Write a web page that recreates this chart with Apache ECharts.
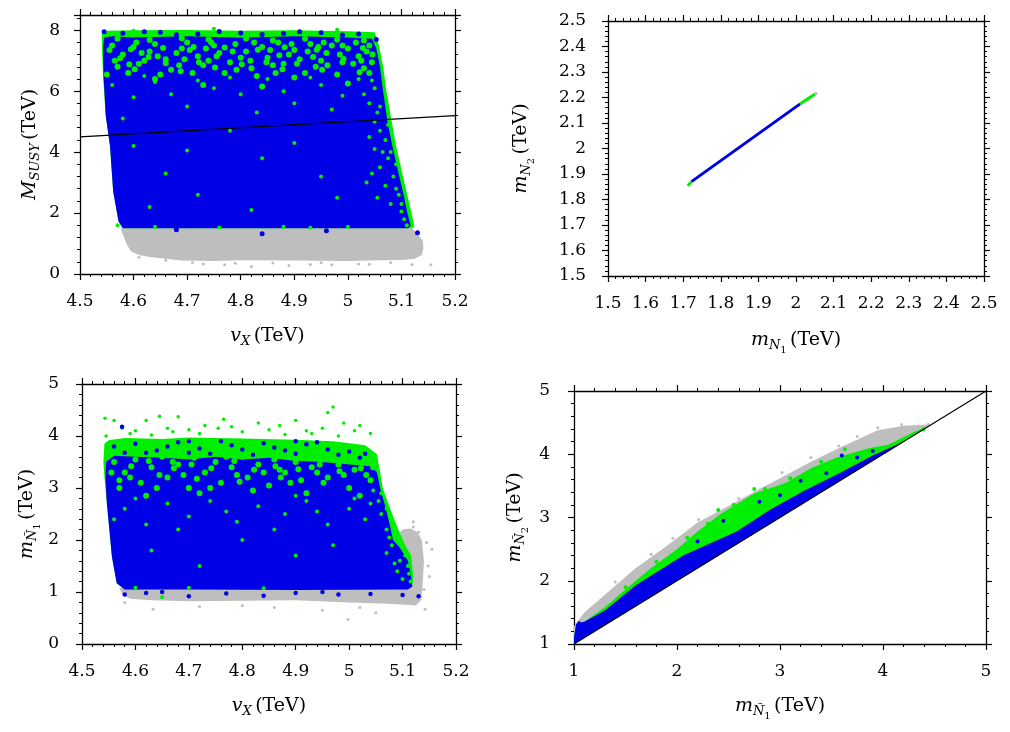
<!DOCTYPE html>
<html>
<head>
<meta charset="utf-8">
<script src="https://cdn.jsdelivr.net/npm/echarts@6/dist/echarts.min.js"></script>
<style>html,body{margin:0;padding:0;background:#fff}#main{width:1010px;height:732px}</style>
</head>
<body>
<div id="main"></div>
<script>
var FONT = 'DejaVu Serif';
var BLUE = '#0000e6', GREEN = '#00ee00', GRAY = '#bebebe';

// ---- panel 1 : M_SUSY vs v_X  (region outlines + loose points)
var p1Gray = [[4.576,1.5],[4.58,1.3],[4.588,0.95],[4.595,0.75],[4.61,0.62],[4.63,0.56],[4.66,0.5],[4.69,0.44],[4.75,0.43],[4.8,0.45],[4.9,0.44],[5.0,0.43],[5.06,0.45],[5.1,0.46],[5.125,0.5],[5.138,0.62],[5.141,0.85],[5.14,1.1],[5.13,1.3],[5.12,1.5]];
var p1Green = [[4.541,7.9],[4.55,7.98],[4.6,8.0],[4.7,8.01],[4.8,7.98],[4.9,8.0],[5.0,7.97],[5.05,7.93],[5.058,7.5],[5.066,6.8],[5.072,6.0],[5.082,5.0],[5.09,4.2],[5.103,3.2],[5.112,2.5],[5.12,1.9],[5.124,1.55],[5.12,1.5],[4.58,1.5],[4.572,1.72],[4.562,2.7],[4.556,4.2],[4.548,5.2],[4.543,6.5],[4.541,7.4]];
var p1Blue = [[4.545,7.75],[4.56,7.8],[4.6,7.76],[4.7,7.8],[4.8,7.75],[4.9,7.8],[5.0,7.76],[5.045,7.72],[5.053,7.4],[5.06,6.8],[5.065,6.1],[5.074,5.0],[5.083,4.2],[5.096,3.2],[5.104,2.6],[5.111,2.0],[5.117,1.6],[5.113,1.5],[4.58,1.5],[4.572,1.72],[4.562,2.7],[4.556,4.2],[4.548,5.2],[4.544,6.5],[4.543,7.4]];
// green patches in the top band (dense)
var p1GreenTop = [[4.56,7.5],[4.58,7.2],[4.6,7.45],[4.61,6.9],[4.63,7.3],[4.64,7.55],[4.66,7.05],[4.67,6.7],[4.69,7.4],[4.7,7.6],[4.72,7.15],[4.73,6.85],[4.75,7.5],[4.76,7.25],[4.78,6.95],[4.79,7.55],[4.81,7.3],[4.82,6.75],[4.84,7.45],[4.85,7.1],[4.87,7.6],[4.88,6.9],[4.9,7.35],[4.91,7.05],[4.93,7.55],[4.94,6.8],[4.96,7.25],[4.97,7.5],[4.99,6.95],[5.0,7.4],[5.02,7.15],[5.03,6.75],[5.04,7.5],[4.57,6.8],[4.59,6.6],[4.62,7.0],[4.65,6.55],[4.68,7.25],[4.71,6.6],[4.74,7.0],[4.77,6.6],[4.8,7.1],[4.83,6.5],[4.86,6.85],[4.89,7.2],[4.92,6.6],[4.95,7.0],[4.98,6.55],[5.01,6.9],[5.04,6.6],[4.565,7.0],[4.605,7.6],[4.645,7.15],[4.685,6.85],[4.705,7.35],[4.745,7.6],[4.785,7.3],[4.825,7.6],[4.855,7.35],[4.895,7.55],[4.925,7.3],[4.955,7.6],[4.985,7.2],[5.015,7.6],[5.035,7.3],[4.615,7.25],[4.735,7.4],[4.865,6.6],[4.945,7.45],[5.045,6.95],
  [4.57,7.72],[4.63,7.68],[4.69,7.74],[4.74,7.7],[4.81,7.73],[4.86,7.66],[4.92,7.72],[4.98,7.69],[5.03,7.66],[4.555,7.35],[4.595,7.38],[4.655,7.42],[4.712,7.45],[4.77,7.43],[4.832,7.36],[4.882,7.44],[4.942,7.36],[4.99,7.5],[5.028,7.42],
  [4.575,7.08],[4.628,7.12],[4.695,7.05],[4.755,7.15],[4.818,7.0],[4.872,7.18],[4.935,7.12],[4.992,7.06],[5.046,7.2],[4.592,6.88],[4.66,6.92],[4.722,6.95],[4.802,6.88],[4.848,6.95],[4.905,6.9],[4.962,6.85],[5.025,7.0],
  [4.602,6.72],[4.688,6.65],[4.752,6.78],[4.792,6.7],[4.878,6.72],[4.952,6.7],[5.022,6.62],[4.55,6.55],[4.64,6.4],[4.73,6.2],[4.9,6.45],[5.0,6.25],[4.84,6.15]];
var p1GreenPts = [[4.56,6.2],[4.6,5.8],[4.64,6.3],[4.7,5.5],[4.75,6.1],[4.8,5.9],[4.85,6.4],[4.9,5.6],[4.95,6.2],[4.99,5.85],[5.02,6.4],[5.04,5.6],[5.05,6.1],[5.055,5.3],[4.58,5.1],[4.67,5.9],[4.88,6.0],[4.97,5.4],[5.03,5.9],[4.62,6.5],[4.78,6.45],[4.93,6.45],[5.045,6.35],[4.83,5.3],[4.72,6.35],
  [5.05,5.0],[5.06,4.7],[5.07,4.4],[5.05,4.1],[5.075,3.8],[5.06,3.5],[5.085,3.2],[5.07,2.9],[5.095,2.6],[5.08,2.3],[5.1,2.05],[5.105,1.8],[5.11,1.6],[5.09,3.6],[5.065,4.0],[5.04,4.5],[5.035,3.0],[5.055,2.5],[5.075,4.9],[5.09,2.8],[5.08,4.0],[5.1,2.3],[5.06,5.5],[5.045,3.3],
  [4.6,4.2],[4.66,3.3],[4.72,2.6],[4.78,4.7],[4.84,3.8],[4.9,4.3],[4.95,3.2],[4.7,4.05],[4.63,2.2],[4.82,2.1],[4.98,2.5],[4.88,1.55],[4.64,1.55],[4.76,1.53],[5.0,1.55],[4.57,1.6],[4.93,1.52],[4.6,7.98],[4.75,8.05],[4.98,8.02]];
var p1BluePts = [[4.58,7.9],[4.65,7.93],[4.72,7.88],[4.8,7.91],[4.88,7.89],[4.95,7.92],[5.02,7.88],[4.62,7.95],[4.76,7.96],[4.91,7.95],[4.68,7.85],[4.84,7.86],[4.99,7.84],[5.053,7.7],[4.84,1.32],[5.13,1.35],[4.68,1.45],[4.96,1.42],[4.545,7.95]];
var p1GrayPts = [[4.82,0.25],[4.89,0.28],[4.97,0.3],[5.04,0.32],[5.155,0.3],[4.73,0.33],[5.12,0.31],[4.66,0.45],[5.02,0.33],[4.93,0.31],[4.77,0.3],[4.61,0.55],[4.71,0.38],[4.86,0.36],[5.08,0.38],[4.79,0.35],[4.95,0.37]];
var p1Line = [[4.5,4.5],[5.2,5.2]];

// ---- panel 2 : m_N2 vs m_N1
var p2GreenLow = [[1.712,1.854],[1.722,1.87]];
var p2BlueLine = [[1.722,1.87],[2.011,2.175]];
var p2GreenHigh = [[2.011,2.175],[2.051,2.214]];
var p2GrayTip = [[2.051,2.214],[2.056,2.219]];

// ---- panel 3 : m_N~1 vs v_X
var p3Gray = [[4.57,1.08],[4.575,0.95],[4.59,0.87],[4.63,0.84],[4.7,0.82],[4.8,0.83],[4.9,0.84],[5.0,0.8],[5.06,0.78],[5.1,0.76],[5.125,0.74],[5.135,0.85],[5.138,1.2],[5.14,1.6],[5.136,2.0],[5.128,2.15],[5.115,2.22],[5.1,2.2],[5.09,2.1],[5.1,1.5],[5.11,1.1],[4.6,1.1]];
var p3Green = [[4.542,3.85],[4.55,3.92],[4.58,3.96],[4.65,3.94],[4.7,3.97],[4.8,3.95],[4.9,3.93],[4.97,3.9],[5.03,3.82],[5.052,3.65],[5.058,3.3],[5.063,3.0],[5.075,2.65],[5.09,2.25],[5.105,1.9],[5.116,1.7],[5.12,1.3],[5.118,1.1],[4.58,1.05],[4.565,1.17],[4.556,1.68],[4.546,2.77],[4.542,3.2],[4.54,3.5]];
var p3Blue = [[4.545,3.5],[4.56,3.62],[4.6,3.6],[4.65,3.58],[4.7,3.55],[4.75,3.6],[4.8,3.55],[4.85,3.58],[4.9,3.52],[4.95,3.5],[5.0,3.45],[5.04,3.42],[5.052,3.3],[5.058,3.0],[5.066,2.7],[5.076,2.3],[5.082,2.0],[5.095,1.85],[5.11,1.6],[5.116,1.3],[5.118,1.1],[5.11,1.05],[4.9,1.04],[4.7,1.05],[4.58,1.05],[4.565,1.17],[4.556,1.68],[4.546,2.77],[4.544,3.2]];
var p3GreenOut = [[4.543,4.34],[4.56,4.3],[4.575,4.15],[4.6,4.1],[4.62,4.3],[4.645,4.38],[4.66,4.15],[4.68,4.37],[4.7,4.12],[4.73,4.2],[4.765,4.32],[4.78,4.18],[4.8,4.08],[4.83,4.25],[4.87,4.2],[4.9,4.3],[4.92,4.1],[4.95,4.15],[4.97,4.56],[4.96,4.45],[4.99,4.25],[5.02,4.2],[5.04,4.05],[4.755,4.15],[4.85,4.12],[4.59,4.05],[4.67,4.08],[4.93,4.05],[5.01,4.1],[4.72,4.05],[4.63,4.02],[4.88,4.03],[4.98,4.0],[4.545,4.0]];
var p3GreenTop = [[4.56,3.5],[4.58,3.3],[4.6,3.55],[4.61,3.1],[4.63,3.4],[4.65,3.6],[4.66,3.2],[4.68,3.45],[4.7,3.0],[4.71,3.58],[4.73,3.3],[4.75,3.5],[4.76,3.1],[4.78,3.4],[4.8,3.6],[4.81,3.2],[4.83,3.45],[4.85,3.05],[4.86,3.55],[4.88,3.3],[4.9,3.5],[4.91,3.15],[4.93,3.4],[4.95,3.55],[4.96,3.2],[4.98,3.45],[5.0,3.0],[5.01,3.35],[5.03,3.5],[5.04,3.15],[4.57,3.0],[4.62,2.85],[4.67,3.5],[4.72,2.9],[4.77,3.6],[4.82,2.95],[4.87,3.35],[4.92,2.9],[4.97,3.6],[5.02,2.85],[4.59,3.2],[4.64,3.0],[4.69,3.25],[4.74,3.0],[4.79,3.25],[4.84,3.3],[4.89,3.1],[4.94,3.3],[4.99,3.25],[5.045,3.4],
  [4.555,3.3],[4.592,3.42],[4.625,3.52],[4.672,3.38],[4.705,3.45],[4.742,3.38],[4.785,3.52],[4.822,3.35],[4.862,3.42],[4.905,3.36],[4.945,3.45],[4.982,3.32],[5.022,3.38],[4.57,3.15],[4.645,3.25],[4.715,3.18],[4.795,3.12],[4.872,3.2],[4.952,3.1],[5.032,3.25]];
var p3GreenPts = [[4.58,2.6],[4.62,2.3],[4.66,2.7],[4.7,2.45],[4.74,2.75],[4.79,2.35],[4.83,2.65],[4.88,2.5],[4.92,2.75],[4.96,2.3],[5.0,2.6],[5.03,2.4],[4.6,2.8],[4.86,2.2],[4.94,2.55],[4.68,2.2],[4.77,2.55],[5.01,2.8],[4.56,2.4],[4.9,2.85],
  [5.06,2.9],[5.07,2.6],[5.08,2.4],[5.085,2.15],[5.09,2.0],[5.1,1.85],[5.105,1.7],[5.11,1.5],[5.112,1.35],[5.095,1.6],[5.08,1.9],[5.07,2.2],[5.09,1.4],[5.1,1.25],[5.115,1.2],[5.06,2.5],[5.055,2.75],[5.04,2.7],[5.07,1.75],[5.085,1.55],[5.045,2.95],[5.075,2.05],
  [4.63,1.8],[4.72,1.5],[4.8,2.0],[4.9,1.7],[4.97,1.9],[4.7,1.08],[4.84,1.07],[4.6,1.08],[4.65,0.9]];
var p3BluePts = [[4.56,3.8],[4.6,3.85],[4.64,3.72],[4.68,3.88],[4.72,3.76],[4.76,3.9],[4.8,3.74],[4.84,3.86],[4.88,3.72],[4.92,3.84],[4.96,3.74],[5.0,3.7],[4.575,4.18],[4.66,3.8],[4.7,3.68],[4.78,3.82],[4.86,3.78],[4.9,3.66],[4.94,3.88],[4.98,3.64],[5.03,3.66],[4.62,3.68],[4.74,3.66],[4.82,3.64],[4.58,3.68],[4.7,3.9],[4.9,3.9],[5.02,3.58],
  [4.58,0.95],[4.62,0.98],[4.7,0.92],[4.77,0.97],[4.84,0.93],[4.9,0.98],[4.98,0.95],[5.04,0.96],[5.1,0.94],[5.13,0.92],[4.65,1.0],[4.95,1.0]];
var p3GrayPts = [[4.633,0.67],[4.998,0.47],[5.142,0.67],[5.155,1.82],[4.86,0.7],[4.95,0.65],[5.05,0.6],[4.72,0.72],[5.12,2.25],[5.13,2.15],[5.15,1.3],[4.58,0.8],[5.145,1.95],[5.148,1.5],[5.14,1.05],[5.12,2.35],[4.8,0.74],[5.02,0.7]];

// ---- panel 4 : m_N~2 vs m_N~1
var p4Gray = [[1.0,1.0],[1.0,1.28],[1.1,1.5],[1.3,1.78],[1.6,2.2],[1.9,2.55],[2.2,2.92],[2.5,3.18],[2.8,3.45],[3.0,3.62],[3.3,3.88],[3.6,4.12],[3.95,4.38],[4.2,4.45],[4.45,4.47],[4.45,4.45]];
var p4Green = [[1.0,1.0],[1.0,1.15],[1.1,1.35],[1.3,1.58],[1.6,2.0],[1.75,2.2],[2.0,2.5],[2.2,2.78],[2.42,3.05],[2.75,3.38],[3.06,3.55],[3.3,3.78],[3.55,3.95],[3.87,4.1],[4.05,4.15],[4.3,4.35],[4.45,4.45]];
var p4Blue = [[1.0,1.0],[1.0,1.1],[1.02,1.32],[1.1,1.35],[1.3,1.53],[1.6,1.93],[2.06,2.4],[2.58,2.78],[2.9,3.12],[3.23,3.42],[3.6,3.72],[3.9,3.98],[4.2,4.2]];
var p4GrayPts = [[1.96,2.67],[2.21,2.97],[3.02,3.71],[3.57,4.13],[3.95,4.42],[4.18,4.47],[4.44,4.47],[2.6,3.3],[3.3,3.95],[3.75,4.28],[1.4,1.98],[1.75,2.42]];
var p4GreenPts = [[2.854,3.45],[3.63,4.08],[2.4,3.12],[2.75,3.45],[3.1,3.62],[2.1,2.68],[3.4,3.88],[4.39,4.39],[1.8,2.3],[2.55,3.2],[1.5,1.9],[2.3,2.9]];
var p4BluePts = [[3.6,3.98],[3.2,3.58],[2.8,3.25],[2.45,2.95],[3.9,4.05],[3.45,3.7],[1.05,1.33],[2.2,2.62],[3.0,3.35],[3.75,3.95]];
var p4Line = [[1,1],[5,5]];

// axis ranges  [min, max, interval]
var p1X = [4.5, 5.2, 0.1], p1Y = [0, 8.5, 2];
var p2X = [1.5, 2.5, 0.1], p2Y = [1.5, 2.5, 0.1];
var p3X = [4.5, 5.2, 0.1], p3Y = [0, 5, 1];
var p4X = [1, 5, 1],       p4Y = [1, 5, 1];

var nameRich = {
    i: {fontFamily: FONT, fontSize: 19, fontStyle: 'italic', color: '#000'},
    s: {fontFamily: FONT, fontSize: 13, fontStyle: 'italic', color: '#000', padding: [11, 0, 0, 0]},
    ss: {fontFamily: FONT, fontSize: 10, color: '#000', padding: [19, 0, 0, 0]},
    n: {fontFamily: FONT, fontSize: 19, color: '#000'}
};

function axisCommon(r) {
    return {
        type: 'value', min: r[0], max: r[1], interval: r[2],
        axisLine: {onZero: false, lineStyle: {color: '#000', width: 1.3}},
        axisTick: {show: true, inside: false, length: 6, lineStyle: {color: '#000', width: 1.2}},
        minorTick: {show: true, splitNumber: 5, length: 3, lineStyle: {color: '#000', width: 1}},
        splitLine: {show: false}
    };
}

function makeX(gi, r, name, gap, margin) {
    var a = axisCommon(r);
    a.gridIndex = gi; a.position = 'bottom';
    a.name = name; a.nameLocation = 'middle'; a.nameGap = gap;
    a.nameTextStyle = {rich: nameRich};
    a.axisLabel = {fontFamily: FONT, fontSize: 17, color: '#000', margin: margin};
    var b = axisCommon(r);
    b.gridIndex = gi; b.position = 'top'; b.axisLabel = {show: false};
    return [a, b];
}
function makeY(gi, r, name, gap, margin, hideMax) {
    var a = axisCommon(r);
    a.gridIndex = gi; a.position = 'left';
    a.name = name; a.nameLocation = 'middle'; a.nameGap = gap;
    a.nameTextStyle = {rich: nameRich};
    a.axisLabel = {fontFamily: FONT, fontSize: 17, color: '#000', margin: margin, showMaxLabel: !hideMax};
    var b = axisCommon(r);
    b.gridIndex = gi; b.position = 'right'; b.axisLabel = {show: false};
    return [a, b];
}

function poly(gi, pts, color) {
    return {
        type: 'custom', xAxisIndex: 2 * gi, yAxisIndex: 2 * gi, silent: true, data: pts,
        renderItem: function (params, api) {
            if (params.dataIndex !== 0) return null;
            return {type: 'polygon', shape: {points: pts.map(function (p) { return api.coord(p); })}, style: {fill: color}};
        }
    };
}
function dots(gi, pts, color, size) {
    return {type: 'scatter', xAxisIndex: 2 * gi, yAxisIndex: 2 * gi, data: pts, symbolSize: size, silent: true,
        itemStyle: {color: color, opacity: 1}};
}
function seg(gi, pts, color, w) {
    return {type: 'line', xAxisIndex: 2 * gi, yAxisIndex: 2 * gi, data: pts, symbol: 'none', silent: true,
        lineStyle: {color: color, width: w}};
}

var tev = ' {n|(TeV)}';
var option = {
    animation: false,
    backgroundColor: '#fff',
    grid: [
        {left: 80, top: 15, width: 375, height: 259},
        {left: 608, top: 21, width: 376, height: 255},
        {left: 82, top: 384, width: 374, height: 260},
        {left: 574, top: 391, width: 412, height: 253}
    ],
    xAxis: [].concat(
        makeX(0, p1X, '{i|v}{s|X}' + tev, 50, 19),
        makeX(1, p2X, '{i|m}{s|N}{ss|1}' + tev, 50, 19),
        makeX(2, p3X, '{i|v}{s|X}' + tev, 50, 19),
        makeX(3, p4X, '{i|m}{s|Ñ}{ss|1}' + tev, 48, 19)
    ),
    yAxis: [].concat(
        makeY(0, p1Y, '{i|M}{s|SUSY}' + tev, 38, 20, true),
        makeY(1, p2Y, '{i|m}{s|N}{ss|2}' + tev, 72, 22, false),
        makeY(2, p3Y, '{i|m}{s|Ñ}{ss|1}' + tev, 40, 23, false),
        makeY(3, p4Y, '{i|m}{s|Ñ}{ss|2}' + tev, 44, 24, false)
    ),
    series: [
        poly(0, p1Gray, GRAY), poly(0, p1Green, GREEN), poly(0, p1Blue, BLUE),
        dots(0, p1GreenTop, GREEN, 6), dots(0, p1GreenPts, GREEN, 4), dots(0, p1BluePts, BLUE, 5), dots(0, p1GrayPts, GRAY, 3),
        seg(0, p1Line, '#000', 1.2),

        seg(1, p2BlueLine, BLUE, 3), seg(1, p2GreenLow, GREEN, 3), seg(1, p2GreenHigh, GREEN, 3), seg(1, p2GrayTip, GRAY, 3),

        poly(2, p3Gray, GRAY), poly(2, p3Green, GREEN), poly(2, p3Blue, BLUE),
        dots(2, p3GreenTop, GREEN, 6), dots(2, p3GreenPts, GREEN, 4), dots(2, p3GreenOut, GREEN, 3.5),
        dots(2, p3BluePts, BLUE, 4.5), dots(2, p3GrayPts, GRAY, 3),

        poly(3, p4Gray, GRAY), poly(3, p4Green, GREEN), poly(3, p4Blue, BLUE),
        dots(3, p4GrayPts, GRAY, 3), dots(3, p4GreenPts, GREEN, 4), dots(3, p4BluePts, BLUE, 4),
        seg(3, p4Line, '#000', 1.2)
    ]
};

var chart = echarts.init(document.getElementById('main'));
chart.setOption(option);
</script>
</body>
</html>
